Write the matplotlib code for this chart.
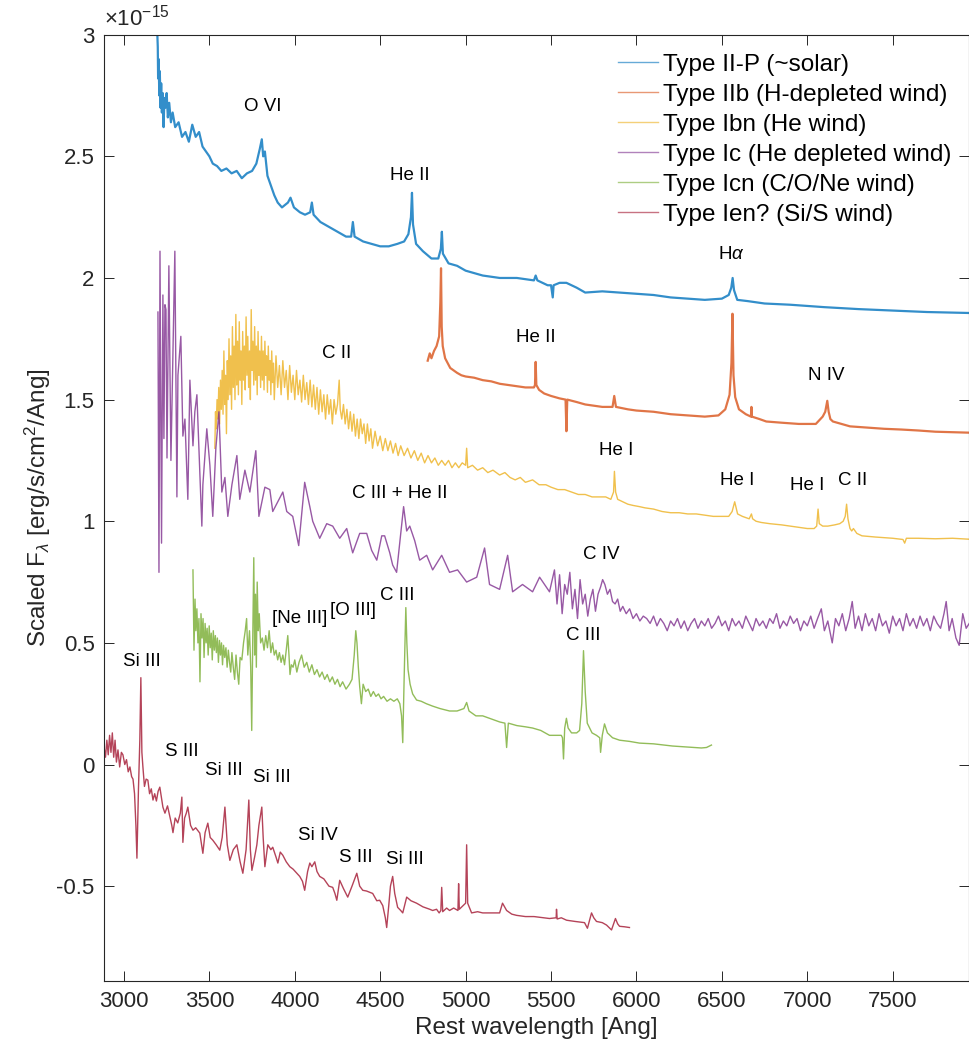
import numpy as np
import matplotlib
matplotlib.use('Agg')
import matplotlib.pyplot as plt
from matplotlib.ticker import FuncFormatter

# spectra as (rest wavelength [Ang], scaled flux [1e-15 erg/s/cm2/Ang])
iip = np.array([
    (3193, 3.05), (3198, 2.95), (3200, 2.82), (3203, 2.90), (3207, 2.75), (3210, 2.85),
    (3214, 2.70), (3218, 2.80), (3222, 2.68), (3227, 2.76), (3232, 2.62), (3237, 2.74),
    (3243, 2.70), (3250, 2.76), (3257, 2.66), (3265, 2.72), (3275, 2.64), (3285, 2.68),
    (3300, 2.62), (3320, 2.64), (3340, 2.58), (3360, 2.60), (3380, 2.56), (3400, 2.63),
    (3420, 2.58), (3440, 2.60), (3460, 2.54), (3480, 2.52), (3500, 2.50), (3520, 2.47),
    (3545, 2.46), (3570, 2.44), (3600, 2.45), (3630, 2.43), (3660, 2.44), (3690, 2.41),
    (3720, 2.43), (3750, 2.44), (3775, 2.47), (3795, 2.53), (3807, 2.57), (3815, 2.50),
    (3825, 2.52), (3840, 2.42), (3860, 2.38), (3880, 2.34), (3900, 2.31), (3925, 2.29),
    (3960, 2.31), (3975, 2.33), (3995, 2.29), (4030, 2.27), (4060, 2.26), (4090, 2.27),
    (4100, 2.31), (4110, 2.26), (4150, 2.23), (4200, 2.21), (4250, 2.19), (4300, 2.17),
    (4330, 2.17), (4340, 2.23), (4350, 2.17), (4400, 2.15), (4450, 2.14), (4500, 2.13),
    (4550, 2.13), (4600, 2.14), (4640, 2.15), (4665, 2.18), (4680, 2.25), (4686, 2.35),
    (4692, 2.22), (4710, 2.14), (4750, 2.11), (4800, 2.08), (4840, 2.08), (4855, 2.12),
    (4861, 2.19), (4867, 2.10), (4900, 2.06), (4950, 2.05), (5000, 2.03), (5100, 2.01),
    (5200, 2.00), (5300, 2.00), (5400, 1.99), (5410, 2.01), (5420, 1.99), (5480, 1.97),
    (5500, 1.97), (5510, 1.92), (5515, 1.97), (5550, 1.98), (5590, 1.98), (5650, 1.96),
    (5700, 1.94), (5800, 1.945), (5900, 1.94), (6000, 1.935), (6100, 1.93), (6200, 1.92),
    (6300, 1.915), (6400, 1.91), (6500, 1.915), (6540, 1.93), (6555, 1.96), (6563, 2.00),
    (6571, 1.95), (6590, 1.91), (6650, 1.905), (6750, 1.895), (6900, 1.89), (7100, 1.88),
    (7300, 1.872), (7500, 1.866), (7700, 1.86), (7950, 1.856)])

iib = np.array([
    (4778, 1.66), (4790, 1.69), (4800, 1.67), (4815, 1.70), (4830, 1.72), (4845, 1.76),
    (4852, 1.90), (4856, 2.04), (4860, 1.80), (4866, 1.72), (4880, 1.67), (4895, 1.65),
    (4910, 1.63), (4930, 1.62), (4950, 1.61), (4975, 1.60), (5000, 1.595), (5050, 1.59),
    (5100, 1.58), (5150, 1.575), (5200, 1.565), (5250, 1.56), (5300, 1.555), (5350, 1.55),
    (5400, 1.55), (5406, 1.56), (5410, 1.655), (5414, 1.56), (5430, 1.54), (5460, 1.525),
    (5500, 1.515), (5550, 1.505), (5585, 1.50), (5590, 1.37), (5595, 1.50), (5650, 1.49),
    (5700, 1.48), (5750, 1.475), (5800, 1.47), (5860, 1.47), (5870, 1.515), (5880, 1.47),
    (5950, 1.46), (6000, 1.455), (6100, 1.45), (6200, 1.44), (6300, 1.435), (6400, 1.43),
    (6480, 1.435), (6520, 1.46), (6545, 1.52), (6556, 1.65), (6562, 1.853), (6568, 1.60),
    (6578, 1.51), (6600, 1.46), (6640, 1.44), (6670, 1.43), (6673, 1.47), (6676, 1.43),
    (6720, 1.42), (6760, 1.41), (6850, 1.405), (6950, 1.40), (7000, 1.40), (7050, 1.40),
    (7070, 1.415), (7090, 1.43), (7105, 1.45), (7117, 1.495), (7125, 1.45), (7135, 1.42),
    (7150, 1.41), (7250, 1.39), (7350, 1.385), (7450, 1.38), (7550, 1.377), (7650, 1.373),
    (7750, 1.368), (7850, 1.366), (7950, 1.364)])

ibn = np.array([
    (3532, 1.30), (3536, 1.45), (3540, 1.38), (3545, 1.50), (3550, 1.42), (3555, 1.55),
    (3560, 1.40), (3565, 1.58), (3570, 1.46), (3575, 1.62), (3580, 1.44), (3585, 1.70),
    (3590, 1.48), (3595, 1.60), (3600, 1.36), (3605, 1.66), (3610, 1.50), (3615, 1.75),
    (3620, 1.52), (3625, 1.68), (3630, 1.46), (3635, 1.80), (3640, 1.55), (3645, 1.72),
    (3650, 1.50), (3655, 1.85), (3660, 1.56), (3665, 1.74), (3670, 1.52), (3675, 1.82),
    (3680, 1.58), (3685, 1.70), (3690, 1.48), (3695, 1.78), (3700, 1.58), (3705, 1.72),
    (3710, 1.54), (3715, 1.84), (3720, 1.60), (3725, 1.76), (3730, 1.55), (3735, 1.70),
    (3740, 1.50), (3745, 1.87), (3750, 1.62), (3755, 1.74), (3760, 1.56), (3765, 1.80),
    (3770, 1.58), (3775, 1.72), (3780, 1.52), (3785, 1.78), (3790, 1.60), (3795, 1.70),
    (3800, 1.55), (3805, 1.76), (3810, 1.58), (3815, 1.70), (3820, 1.54), (3825, 1.74),
    (3830, 1.60), (3835, 1.68), (3840, 1.53), (3845, 1.72), (3850, 1.58), (3855, 1.66),
    (3860, 1.52), (3865, 1.70), (3870, 1.57), (3875, 1.65), (3880, 1.50), (3890, 1.68),
    (3900, 1.55), (3910, 1.64), (3920, 1.52), (3930, 1.66), (3940, 1.55), (3950, 1.62),
    (3960, 1.50), (3970, 1.64), (3980, 1.53), (3990, 1.60), (4000, 1.50), (4010, 1.62),
    (4020, 1.52), (4030, 1.58), (4040, 1.49), (4050, 1.60), (4060, 1.50), (4070, 1.57),
    (4080, 1.48), (4090, 1.58), (4100, 1.47), (4110, 1.56), (4120, 1.46), (4130, 1.55),
    (4140, 1.44), (4150, 1.54), (4160, 1.45), (4170, 1.52), (4180, 1.42), (4190, 1.52),
    (4200, 1.44), (4210, 1.50), (4220, 1.40), (4230, 1.50), (4240, 1.44), (4250, 1.48),
    (4260, 1.58), (4266, 1.46), (4275, 1.42), (4285, 1.48), (4295, 1.40), (4305, 1.46),
    (4315, 1.38), (4325, 1.45), (4335, 1.37), (4345, 1.44), (4355, 1.35), (4365, 1.42),
    (4375, 1.34), (4385, 1.42), (4395, 1.36), (4405, 1.40), (4415, 1.32), (4425, 1.40),
    (4435, 1.33), (4445, 1.38), (4455, 1.30), (4470, 1.37), (4485, 1.31), (4500, 1.35),
    (4515, 1.29), (4530, 1.34), (4545, 1.29), (4560, 1.33), (4575, 1.28), (4590, 1.32),
    (4605, 1.27), (4620, 1.31), (4640, 1.27), (4660, 1.30), (4680, 1.26), (4700, 1.29),
    (4720, 1.25), (4740, 1.28), (4760, 1.24), (4780, 1.27), (4800, 1.24), (4820, 1.26),
    (4840, 1.23), (4860, 1.25), (4880, 1.23), (4900, 1.25), (4920, 1.22), (4940, 1.24),
    (4960, 1.22), (4980, 1.24), (5000, 1.23), (5006, 1.30), (5012, 1.22), (5040, 1.23),
    (5070, 1.21), (5100, 1.22), (5130, 1.20), (5160, 1.21), (5199, 1.19), (5230, 1.20),
    (5260, 1.18), (5290, 1.17), (5320, 1.18), (5350, 1.16), (5392, 1.17), (5430, 1.15),
    (5470, 1.15), (5500, 1.14), (5540, 1.13), (5580, 1.13), (5620, 1.12), (5660, 1.11),
    (5700, 1.11), (5740, 1.10), (5780, 1.10), (5820, 1.10), (5850, 1.09), (5866, 1.12),
    (5871, 1.205), (5878, 1.12), (5890, 1.09), (5920, 1.08), (5950, 1.07), (5980, 1.065),
    (6018, 1.06), (6050, 1.055), (6100, 1.05), (6150, 1.04), (6200, 1.035), (6250, 1.035),
    (6300, 1.03), (6350, 1.03), (6400, 1.025), (6450, 1.02), (6500, 1.02), (6540, 1.02),
    (6560, 1.04), (6575, 1.08), (6582, 1.06), (6592, 1.03), (6620, 1.02), (6660, 1.01),
    (6673, 1.03), (6680, 1.01), (6700, 1.00), (6730, 0.995), (6780, 0.99), (6850, 0.985),
    (6900, 0.98), (6950, 0.975), (7000, 0.97), (7040, 0.97), (7055, 0.98), (7063, 1.05),
    (7070, 0.99), (7090, 0.98), (7120, 0.98), (7160, 0.985), (7190, 0.99), (7210, 1.00),
    (7222, 1.02), (7230, 1.07), (7238, 1.01), (7250, 0.97), (7260, 0.96), (7270, 0.97),
    (7290, 0.95), (7320, 0.94), (7400, 0.935), (7500, 0.93), (7560, 0.925), (7570, 0.91),
    (7580, 0.93), (7650, 0.93), (7750, 0.928), (7850, 0.93), (7950, 0.926)])

ic = np.array([
    (3199, 1.86), (3205, 0.79), (3211, 2.11), (3220, 0.91), (3228, 1.93), (3234, 1.34),
    (3240, 1.89), (3246, 1.87), (3252, 1.26), (3263, 2.05), (3275, 1.25), (3298, 2.11),
    (3310, 1.10), (3316, 1.60), (3333, 1.76), (3345, 1.35), (3357, 1.42), (3374, 1.09),
    (3386, 1.58), (3404, 1.31), (3415, 1.45), (3427, 1.52), (3456, 0.98), (3462, 1.15),
    (3485, 1.38), (3503, 1.23), (3520, 1.02), (3538, 1.30), (3556, 1.45), (3573, 1.12),
    (3591, 1.18), (3608, 1.02), (3632, 1.15), (3661, 1.27), (3678, 1.09), (3708, 1.21),
    (3737, 1.12), (3772, 1.29), (3790, 1.02), (3825, 1.14), (3854, 1.13), (3871, 1.04),
    (3930, 1.12), (3953, 1.04), (3988, 1.02), (4023, 0.90), (4058, 1.16), (4088, 1.06),
    (4105, 1.00), (4146, 0.93), (4187, 0.99), (4222, 0.98), (4263, 0.93), (4304, 0.97),
    (4339, 0.87), (4380, 0.95), (4421, 0.95), (4450, 0.88), (4480, 0.84), (4509, 0.94),
    (4526, 0.94), (4556, 0.87), (4573, 0.82), (4596, 0.79), (4637, 1.06), (4655, 0.96),
    (4673, 0.98), (4702, 0.92), (4731, 0.84), (4772, 0.86), (4807, 0.80), (4860, 0.86),
    (4906, 0.79), (4953, 0.80), (5006, 0.75), (5065, 0.77), (5111, 0.89), (5140, 0.74),
    (5199, 0.72), (5246, 0.86), (5275, 0.71), (5333, 0.74), (5392, 0.71), (5433, 0.77),
    (5491, 0.71), (5520, 0.80), (5535, 0.66), (5550, 0.78), (5565, 0.62), (5580, 0.74),
    (5595, 0.70), (5610, 0.79), (5625, 0.64), (5640, 0.72), (5655, 0.60), (5670, 0.76),
    (5685, 0.66), (5700, 0.70), (5715, 0.61), (5730, 0.68), (5745, 0.72), (5760, 0.63),
    (5775, 0.70), (5790, 0.73), (5802, 0.76), (5815, 0.74), (5830, 0.70), (5845, 0.72),
    (5860, 0.67), (5875, 0.66), (5890, 0.68), (5905, 0.63), (5920, 0.65), (5940, 0.62),
    (5960, 0.64), (5980, 0.60), (6000, 0.62), (6020, 0.59), (6040, 0.61), (6060, 0.60),
    (6080, 0.58), (6100, 0.61), (6120, 0.57), (6140, 0.60), (6160, 0.58), (6180, 0.55),
    (6200, 0.59), (6220, 0.57), (6240, 0.60), (6260, 0.56), (6280, 0.59), (6300, 0.55),
    (6320, 0.58), (6340, 0.60), (6360, 0.56), (6380, 0.59), (6400, 0.57), (6420, 0.60),
    (6440, 0.56), (6460, 0.58), (6480, 0.61), (6500, 0.57), (6520, 0.59), (6540, 0.55),
    (6560, 0.60), (6580, 0.57), (6600, 0.59), (6620, 0.56), (6640, 0.61), (6660, 0.58),
    (6680, 0.55), (6700, 0.60), (6720, 0.57), (6740, 0.59), (6760, 0.56), (6780, 0.60),
    (6800, 0.58), (6820, 0.62), (6840, 0.56), (6860, 0.59), (6880, 0.57), (6900, 0.61),
    (6920, 0.58), (6940, 0.60), (6960, 0.55), (6980, 0.59), (7000, 0.57), (7020, 0.61),
    (7040, 0.56), (7060, 0.60), (7082, 0.64), (7100, 0.55), (7120, 0.59), (7146, 0.50),
    (7165, 0.60), (7185, 0.57), (7205, 0.62), (7225, 0.55), (7245, 0.60), (7263, 0.67),
    (7280, 0.56), (7300, 0.61), (7320, 0.55), (7340, 0.62), (7360, 0.57), (7380, 0.60),
    (7400, 0.55), (7420, 0.62), (7440, 0.57), (7460, 0.59), (7480, 0.54), (7500, 0.61),
    (7520, 0.57), (7540, 0.60), (7560, 0.55), (7580, 0.62), (7600, 0.57), (7620, 0.60),
    (7640, 0.56), (7660, 0.61), (7680, 0.57), (7700, 0.60), (7720, 0.55), (7740, 0.61),
    (7760, 0.58), (7780, 0.56), (7800, 0.62), (7813, 0.67), (7830, 0.55), (7848, 0.60),
    (7870, 0.52), (7889, 0.49), (7910, 0.62), (7930, 0.56), (7948, 0.58)])

icn = np.array([
    (3404, 0.80), (3410, 0.47), (3416, 0.68), (3421, 0.55), (3427, 0.64), (3433, 0.50),
    (3439, 0.60), (3445, 0.34), (3451, 0.62), (3457, 0.52), (3463, 0.60), (3469, 0.44),
    (3475, 0.58), (3481, 0.50), (3487, 0.56), (3493, 0.45), (3499, 0.57), (3505, 0.48),
    (3511, 0.54), (3517, 0.43), (3523, 0.55), (3529, 0.47), (3535, 0.53), (3541, 0.46),
    (3547, 0.52), (3553, 0.42), (3559, 0.51), (3565, 0.45), (3571, 0.50), (3577, 0.41),
    (3583, 0.49), (3590, 0.44), (3597, 0.48), (3604, 0.40), (3611, 0.47), (3618, 0.42),
    (3625, 0.38), (3632, 0.46), (3640, 0.40), (3648, 0.35), (3656, 0.45), (3664, 0.38),
    (3672, 0.33), (3680, 0.44), (3690, 0.43), (3700, 0.50), (3710, 0.55), (3718, 0.60),
    (3725, 0.45), (3735, 0.55), (3742, 0.40), (3748, 0.14), (3754, 0.52), (3760, 0.85),
    (3765, 0.45), (3770, 0.70), (3775, 0.40), (3780, 0.75), (3786, 0.55), (3792, 0.62),
    (3800, 0.50), (3810, 0.52), (3820, 0.47), (3830, 0.53), (3840, 0.48), (3850, 0.55),
    (3860, 0.46), (3870, 0.50), (3880, 0.45), (3890, 0.47), (3900, 0.43), (3910, 0.46),
    (3920, 0.42), (3930, 0.45), (3940, 0.41), (3950, 0.47), (3959, 0.53), (3966, 0.45),
    (3972, 0.37), (3980, 0.41), (3990, 0.40), (4000, 0.43), (4012, 0.38), (4025, 0.42),
    (4040, 0.45), (4055, 0.40), (4070, 0.42), (4085, 0.38), (4100, 0.41), (4115, 0.37),
    (4130, 0.39), (4145, 0.36), (4160, 0.38), (4175, 0.35), (4190, 0.37), (4205, 0.34),
    (4220, 0.36), (4235, 0.33), (4250, 0.35), (4265, 0.32), (4280, 0.34), (4300, 0.31),
    (4320, 0.33), (4335, 0.35), (4348, 0.45), (4357, 0.55), (4364, 0.50), (4372, 0.40),
    (4380, 0.32), (4390, 0.25), (4400, 0.33), (4415, 0.30), (4430, 0.31), (4445, 0.28),
    (4460, 0.30), (4475, 0.28), (4490, 0.29), (4505, 0.27), (4520, 0.28), (4540, 0.26),
    (4560, 0.27), (4580, 0.26), (4600, 0.27), (4615, 0.25), (4625, 0.20), (4632, 0.09),
    (4640, 0.35), (4650, 0.645), (4656, 0.50), (4663, 0.39), (4675, 0.33), (4690, 0.29),
    (4713, 0.265), (4740, 0.26), (4770, 0.25), (4807, 0.24), (4850, 0.23), (4906, 0.22),
    (4950, 0.22), (4990, 0.23), (5006, 0.255), (5020, 0.22), (5060, 0.20), (5100, 0.20),
    (5140, 0.19), (5199, 0.175), (5230, 0.17), (5240, 0.07), (5250, 0.17), (5300, 0.16),
    (5350, 0.155), (5392, 0.15), (5440, 0.14), (5491, 0.12), (5530, 0.12), (5560, 0.12),
    (5567, 0.11), (5573, 0.023), (5580, 0.15), (5590, 0.19), (5600, 0.15), (5620, 0.13),
    (5650, 0.13), (5667, 0.14), (5680, 0.25), (5690, 0.468), (5700, 0.30), (5712, 0.17),
    (5740, 0.13), (5766, 0.12), (5785, 0.11), (5790, 0.05), (5800, 0.12), (5813, 0.167),
    (5830, 0.13), (5860, 0.11), (5901, 0.10), (5960, 0.095), (6018, 0.088), (6100, 0.085),
    (6211, 0.076), (6300, 0.072), (6380, 0.068), (6410, 0.07), (6439, 0.08)])

ien = np.array([
    (2884, 0.07), (2892, 0.03), (2900, 0.10), (2908, 0.04), (2916, 0.12), (2924, 0.05),
    (2932, 0.13), (2940, 0.03), (2948, 0.10), (2956, 0.01), (2965, 0.06), (2975, -0.01),
    (2985, 0.05), (2994, 0.04), (3005, 0.00), (3015, 0.02), (3025, -0.03), (3035, -0.01),
    (3045, -0.05), (3053, -0.06), (3062, -0.12), (3070, -0.25), (3076, -0.385), (3085, -0.10),
    (3093, 0.10), (3099, 0.357), (3105, 0.05), (3111, -0.01), (3120, -0.09), (3130, -0.06),
    (3140, -0.064), (3150, -0.12), (3160, -0.10), (3170, -0.146), (3180, -0.12), (3190, -0.15),
    (3200, -0.11), (3210, -0.093), (3220, -0.14), (3228, -0.175), (3240, -0.20), (3255, -0.17),
    (3269, -0.216), (3280, -0.25), (3287, -0.28), (3300, -0.22), (3315, -0.24), (3330, -0.20),
    (3339, -0.134), (3345, -0.32), (3355, -0.22), (3365, -0.20), (3374, -0.175), (3390, -0.25),
    (3404, -0.27), (3420, -0.26), (3444, -0.282), (3462, -0.365), (3475, -0.28), (3491, -0.241),
    (3505, -0.30), (3520, -0.311), (3540, -0.33), (3561, -0.352), (3575, -0.30), (3591, -0.175),
    (3605, -0.33), (3620, -0.394), (3640, -0.35), (3661, -0.33), (3680, -0.40), (3696, -0.447),
    (3715, -0.35), (3731, -0.146), (3740, -0.35), (3749, -0.435), (3765, -0.38), (3778, -0.33),
    (3790, -0.25), (3807, -0.175), (3815, -0.30), (3825, -0.42), (3842, -0.33), (3860, -0.35),
    (3871, -0.34), (3890, -0.38), (3901, -0.405), (3915, -0.36), (3930, -0.373), (3950, -0.40),
    (3971, -0.42), (3990, -0.43), (4012, -0.447), (4029, -0.46), (4045, -0.48), (4058, -0.517),
    (4075, -0.44), (4088, -0.405), (4100, -0.42), (4117, -0.40), (4130, -0.44), (4146, -0.46),
    (4170, -0.47), (4200, -0.50), (4222, -0.505), (4235, -0.53), (4246, -0.558), (4263, -0.476),
    (4285, -0.51), (4310, -0.545), (4335, -0.50), (4363, -0.447), (4380, -0.50), (4398, -0.517),
    (4420, -0.52), (4456, -0.53), (4480, -0.56), (4497, -0.558), (4515, -0.58), (4530, -0.63),
    (4538, -0.67), (4550, -0.58), (4560, -0.50), (4573, -0.46), (4585, -0.53), (4602, -0.587),
    (4620, -0.60), (4632, -0.61), (4655, -0.545), (4680, -0.56), (4713, -0.57), (4750, -0.585),
    (4790, -0.595), (4807, -0.60), (4830, -0.595), (4845, -0.61), (4855, -0.60), (4860, -0.505),
    (4866, -0.605), (4889, -0.59), (4906, -0.60), (4930, -0.59), (4955, -0.60), (4959, -0.49),
    (4963, -0.595), (4985, -0.58), (5000, -0.57), (5006, -0.33), (5012, -0.57), (5035, -0.61),
    (5070, -0.605), (5100, -0.61), (5150, -0.61), (5199, -0.61), (5216, -0.57), (5240, -0.60),
    (5270, -0.615), (5298, -0.62), (5350, -0.625), (5400, -0.625), (5433, -0.628), (5491, -0.633),
    (5530, -0.63), (5532, -0.595), (5536, -0.635), (5560, -0.63), (5591, -0.64), (5640, -0.645),
    (5696, -0.65), (5713, -0.673), (5737, -0.61), (5750, -0.63), (5766, -0.645), (5800, -0.65),
    (5825, -0.66), (5854, -0.68), (5877, -0.633), (5890, -0.655), (5901, -0.665), (5930, -0.667),
    (5959, -0.67)])

series = [iip, iib, ibn, ic, icn, ien]
names = ['Type II-P (~solar)', 'Type IIb (H-depleted wind)', 'Type Ibn (He wind)',
         'Type Ic (He depleted wind)', 'Type Icn (C/O/Ne wind)', 'Type Ien? (Si/S wind)']
colors = ['#0072BD', '#D95319', '#EDB120', '#7E2F8E', '#77AC30', '#A2142F']

# line identifications: label, wavelength, flux
line_ids = [
    ('O VI', 3813, 2.706), ('He II', 4673, 2.422), (r'H$\alpha$', 6556, 2.096),
    ('C II', 4246, 1.688), ('He II', 5409, 1.754), ('N IV', 7111, 1.601),
    ('He I', 5883, 1.292), ('He I', 6591, 1.169), ('He I', 7000, 1.148), ('C II', 7263, 1.169),
    ('C III + He II', 4614, 1.115), ('C IV', 5795, 0.864), ('C III', 5690, 0.530),
    ('[Ne III]', 4029, 0.600), ('[O III]', 4339, 0.633), ('C III', 4602, 0.695),
    ('Si III', 3105, 0.423), ('S III', 3339, 0.052), ('Si III', 3585, -0.023),
    ('Si III', 3865, -0.052), ('Si IV', 4135, -0.290), ('S III', 4357, -0.381),
    ('Si III', 4643, -0.389)]

plt.rcParams['font.family'] = ['Liberation Sans', 'DejaVu Sans']
plt.rcParams['axes.unicode_minus'] = False
plt.rcParams['mathtext.fontset'] = 'custom'
plt.rcParams['mathtext.rm'] = 'Liberation Sans'
plt.rcParams['mathtext.it'] = 'Liberation Sans:italic'

fig = plt.figure(figsize=(9.7, 10.48), dpi=100)
ax = fig.add_axes([0.1077, 0.0639, 0.891, 0.903])

for s, n, c in zip(series, names, colors):
    lw = 1.6 if c in ('#0072BD', '#D95319') else 1.0
    ax.plot(s[:, 0], s[:, 1], color=c, lw=lw, alpha=0.8, label=n)

for txt, wl, fl in line_ids:
    ax.text(wl, fl, txt, ha='center', va='center', fontsize=13.5, color='black')

ax.set_xlim(2886, 7945)
ax.set_ylim(-0.89, 3.0)
ax.set_xticks(np.arange(3000, 7501, 500))
ax.set_yticks([-0.5, 0, 0.5, 1, 1.5, 2, 2.5, 3])
ax.yaxis.set_major_formatter(FuncFormatter(lambda v, p: '%g' % v))
ax.tick_params(direction='in', length=7, width=0.7, top=True, right=True,
               labelsize=16, colors='#262626', pad=7)
for sp in ax.spines.values():
    sp.set_color('#262626')
    sp.set_linewidth(0.8)

ax.set_xlabel('Rest wavelength [Ang]', fontsize=17.5, color='#262626')
ax.set_ylabel(r'Scaled F$_\lambda$ [erg/s/cm$^2$/Ang]', fontsize=17.5, color='#262626')
ax.yaxis.set_label_coords(-0.06, 0.5)
ax.text(0.0, 1.004, r'$\times$10$^{-15}$', transform=ax.transAxes, ha='left', va='bottom',
        fontsize=16, color='#262626')

leg = ax.legend(loc='upper left', bbox_to_anchor=(0.594, 0.980), frameon=False,
                fontsize=17.5, handlelength=1.65, handletextpad=0.2, labelspacing=0.33,
                borderpad=0, borderaxespad=0)
for h in leg.get_lines():
    h.set_linewidth(1.0)
    h.set_alpha(0.6)

fig.savefig('out.png', dpi=100)
